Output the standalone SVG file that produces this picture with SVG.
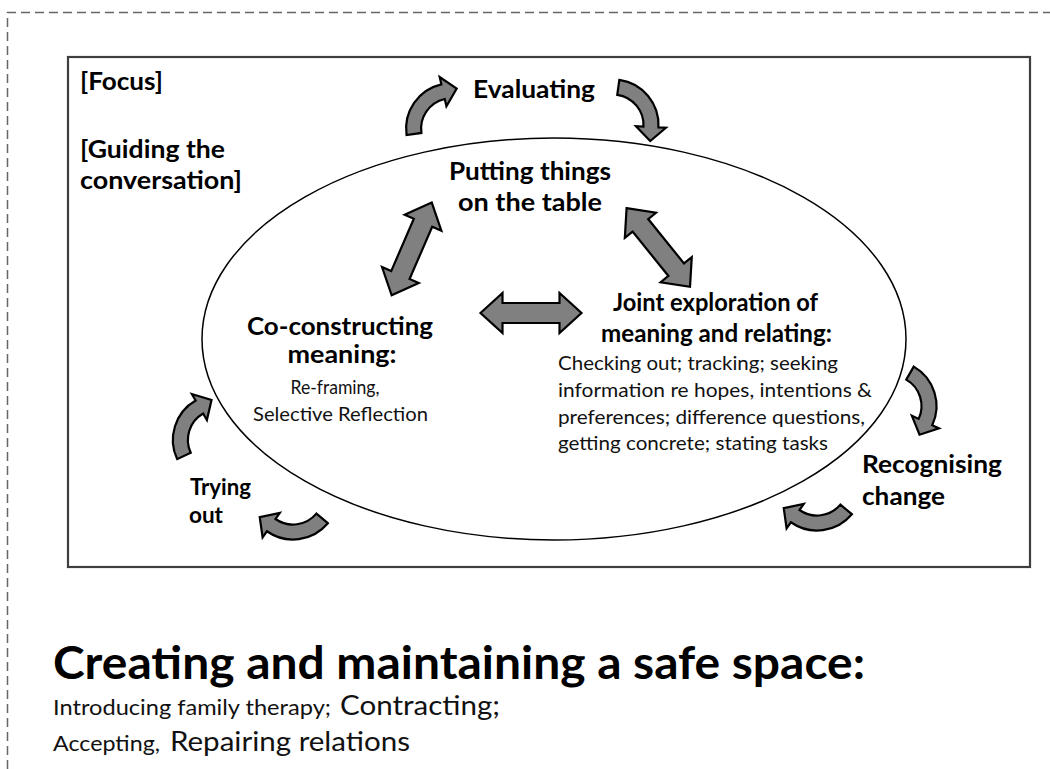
<svg xmlns="http://www.w3.org/2000/svg" xmlns:xlink="http://www.w3.org/1999/xlink" width="1050" height="769" viewBox="0 0 1050 769">
<style>
.t{font-family:Lato,"Liberation Sans",sans-serif;fill:#000}
.b{font-weight:bold;font-size:25.5px}
.bs{font-weight:bold;font-size:22px}
.r{font-weight:normal;font-size:20px;fill:#111}
.big{font-weight:bold;font-size:46px}
.sm{font-weight:normal;font-size:20.5px;fill:#111}
.md{font-weight:normal;font-size:26px;fill:#111}
.arr{fill:#808080;stroke:#000;stroke-width:2.2;stroke-linejoin:miter}
.dash{fill:none;stroke:#666;stroke-width:1.5;stroke-dasharray:9 5}
</style>
<defs>
<path id="carrow" d="M 3.966,-45.327 A 45.5 45.5 0 0 1 45.5,0 L 53,0 L 38,14 L 23,0 L 30.5,0 A 30.5 30.5 0 0 0 2.658,-30.384 Z"/>
<path id="darrow" d="M -50.5,0 L -28.5,-20 L -28.5,-10 L 28.5,-10 L 28.5,-20 L 50.5,0 L 28.5,20 L 28.5,10 L -28.5,10 L -28.5,20 Z"/>
</defs>
<rect width="1050" height="769" fill="#fff"/>
<g id="outer-border">
<path class="dash" d="M 7.5,769 L 7.5,12.5 L 1050,12.5"/>
</g>
<g id="frame">
<rect x="68" y="57" width="962" height="510" fill="none" stroke="#3f3f3f" stroke-width="2.2"/>
</g>
<g id="ellipse">
<ellipse cx="554" cy="339" rx="352" ry="201" fill="none" stroke="#000" stroke-width="1.5"/>
</g>
<g id="connectors">
<use xlink:href="#carrow" href="#carrow" class="arr" transform="translate(451.6,128.7) rotate(257)"/>
<use xlink:href="#carrow" href="#carrow" class="arr" transform="translate(613,125) rotate(3)"/>
<use xlink:href="#carrow" href="#carrow" class="arr" transform="translate(891,406) rotate(25)"/>
<use xlink:href="#carrow" href="#carrow" class="arr" transform="translate(817,485) rotate(125)"/>
<use xlink:href="#carrow" href="#carrow" class="arr" transform="translate(293,494) rotate(125)"/>
<use xlink:href="#carrow" href="#carrow" class="arr" transform="translate(218.4,439.9) rotate(240)"/>
<use xlink:href="#darrow" href="#darrow" class="arr" transform="translate(531,313)"/>
<use xlink:href="#darrow" href="#darrow" class="arr" transform="translate(411.7,248.9) rotate(-66.6)"/>
<use xlink:href="#darrow" href="#darrow" class="arr" transform="translate(658.3,247.5) rotate(51.1)"/>
</g>
<g id="focus">
<text class="t b" x="80" y="90" textLength="83" lengthAdjust="spacingAndGlyphs">[Focus]</text>
</g>
<g id="guiding">
<text class="t b" x="80" y="158" textLength="145" lengthAdjust="spacingAndGlyphs">[Guiding the</text>
<text class="t b" x="80" y="189" textLength="162" lengthAdjust="spacingAndGlyphs">conversation]</text>
</g>
<g id="evaluating">
<text class="t b" x="473" y="98" textLength="122" lengthAdjust="spacingAndGlyphs">Evaluating</text>
</g>
<g id="putting">
<text class="t b" x="530" y="180" text-anchor="middle" textLength="162" lengthAdjust="spacingAndGlyphs">Putting things</text>
<text class="t b" x="530" y="211" text-anchor="middle" textLength="144" lengthAdjust="spacingAndGlyphs">on the table</text>
</g>
<g id="coconstructing">
<text class="t b" x="340" y="335" text-anchor="middle" textLength="186" lengthAdjust="spacingAndGlyphs">Co-constructing</text>
<text class="t b" x="342" y="363" text-anchor="middle" textLength="109" lengthAdjust="spacingAndGlyphs">meaning:</text>
<text class="t r" x="335" y="394" text-anchor="middle" textLength="89" lengthAdjust="spacingAndGlyphs">Re-framing,</text>
<text class="t r" x="340.5" y="421" text-anchor="middle" textLength="175" lengthAdjust="spacingAndGlyphs">Selective Reflection</text>
</g>
<g id="joint">
<text class="t b" x="715.5" y="311" text-anchor="middle" textLength="205" lengthAdjust="spacingAndGlyphs">Joint exploration of</text>
<text class="t b" x="716.5" y="342" text-anchor="middle" textLength="231" lengthAdjust="spacingAndGlyphs">meaning and relating:</text>
<text class="t r" x="558" y="370" textLength="280" lengthAdjust="spacingAndGlyphs">Checking out; tracking; seeking</text>
<text class="t r" x="558" y="397" textLength="314" lengthAdjust="spacingAndGlyphs">information re hopes, intentions &amp;</text>
<text class="t r" x="558" y="424" textLength="307" lengthAdjust="spacingAndGlyphs">preferences; difference questions,</text>
<text class="t r" x="558" y="450" textLength="270" lengthAdjust="spacingAndGlyphs">getting concrete; stating tasks</text>
</g>
<g id="recognising">
<text class="t b" x="862" y="473" textLength="140" lengthAdjust="spacingAndGlyphs">Recognising</text>
<text class="t b" x="862" y="505" textLength="83" lengthAdjust="spacingAndGlyphs">change</text>
</g>
<g id="trying">
<text class="t bs" x="190" y="495" textLength="61" lengthAdjust="spacingAndGlyphs">Trying</text>
<text class="t bs" x="189" y="523" textLength="34" lengthAdjust="spacingAndGlyphs">out</text>
</g>
<g id="safe-space">
<text class="t big" x="53" y="679" textLength="812" lengthAdjust="spacingAndGlyphs">Creating and maintaining a safe space:</text>
<text class="t" y="715"><tspan class="sm" x="53" textLength="278" lengthAdjust="spacingAndGlyphs">Introducing family therapy;</tspan><tspan class="md" x="340" textLength="160" lengthAdjust="spacingAndGlyphs">Contracting;</tspan></text>
<text class="t" y="751"><tspan class="sm" x="53" textLength="107" lengthAdjust="spacingAndGlyphs">Accepting,</tspan><tspan class="md" x="170" textLength="240" lengthAdjust="spacingAndGlyphs">Repairing relations</tspan></text>
</g>
</svg>
